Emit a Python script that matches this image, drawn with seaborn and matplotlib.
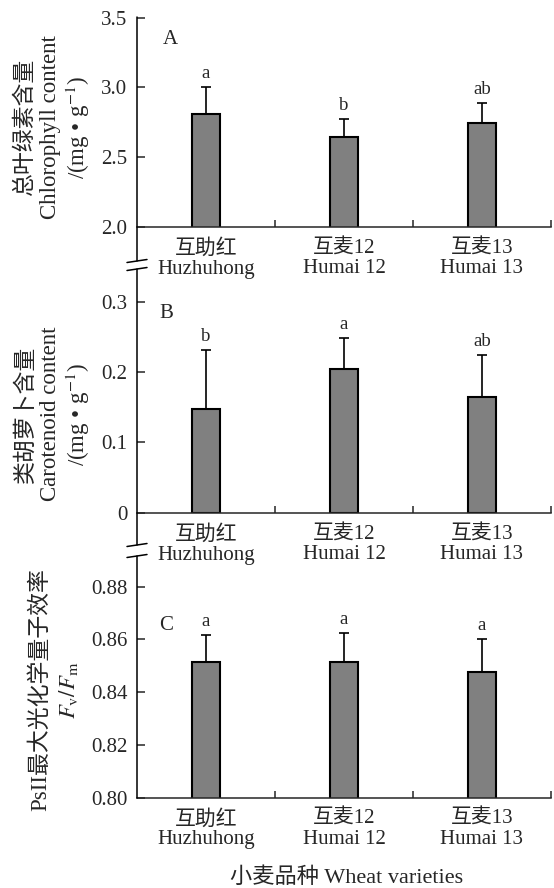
import matplotlib
matplotlib.use("Agg")
import matplotlib.pyplot as plt
from matplotlib.lines import Line2D
import seaborn as sns
import pandas as pd
import numpy as np

# ---------------- data ----------------
varieties_cn = ["互助红", "互麦12", "互麦13"]
varieties_en = ["Huzhuhong", "Humai 12", "Humai 13"]

chlorophyll = [2.81, 2.64, 2.74]
chlorophyll_err = [0.19, 0.135, 0.15]
chlorophyll_letters = ["a", "b", "ab"]

carotenoid = [0.148, 0.204, 0.165]
carotenoid_err = [0.083, 0.044, 0.059]
carotenoid_letters = ["b", "a", "ab"]

fvfm = [0.8516, 0.8516, 0.8478]
fvfm_err = [0.0102, 0.0107, 0.0124]
fvfm_letters = ["a", "a", "a"]

chl_ticks = [2.0, 2.5, 3.0, 3.5]
chl_ticklabels = ["2.0", "2.5", "3.0", "3.5"]
car_ticks = [0, 0.1, 0.2, 0.3]
car_ticklabels = ["0", "0.1", "0.2", "0.3"]
fv_ticks = [0.80, 0.82, 0.84, 0.86, 0.88]
fv_ticklabels = ["0.80", "0.82", "0.84", "0.86", "0.88"]

# ---------------- style ----------------
sns.set_style("ticks")
plt.rcParams["font.family"] = ["Liberation Serif", "Noto Sans CJK SC"]
plt.rcParams["mathtext.fontset"] = "stix"
plt.rcParams["axes.unicode_minus"] = True

W, H = 554, 888
fig = plt.figure(figsize=(W / 100, H / 100), dpi=100)

LEFT_PX, RIGHT_PX = 137, 551
BAR_COLOR = "#808080"
LW = 1.1
TICK_FS = 15


def rect(top_px, bottom_px):
    return [LEFT_PX / W, 1 - bottom_px / H, (RIGHT_PX - LEFT_PX) / W, (bottom_px - top_px) / H]


def fx(px):
    return px / W


def fy(py):
    return 1 - py / H


xtick_labels = [f"{c}\n{e}" for c, e in zip(varieties_cn, varieties_en)]


def panel(top_px, bottom_px, values, errs, letters, ylim, ticks, ticklabels, tag, tag_pos):
    ax = fig.add_axes(rect(top_px, bottom_px))
    ax.set_facecolor("none")
    df = pd.DataFrame({"variety": xtick_labels, "value": values})
    sns.barplot(data=df, x="variety", y="value", color=BAR_COLOR, saturation=1,
                edgecolor="black", linewidth=1.5, width=0.2, errorbar=None, ax=ax)
    xs = np.arange(len(values))
    ax.errorbar(xs, values, yerr=[np.zeros(len(errs)), errs], fmt="none",
                ecolor="black", elinewidth=1.2, capsize=3.3, capthick=1.2, zorder=3)
    for x, v, e, l in zip(xs, values, errs, letters):
        ax.annotate(l, xy=(x, v + e), xytext=(0, 6.5), textcoords="offset points",
                    ha="center", va="baseline", fontsize=13.5)
    ax.set_xlim(-0.5, 2.5)
    ax.set_ylim(*ylim)
    ax.set_yticks(ticks)
    ax.set_yticklabels(ticklabels)
    ax.set_xticks(xs)
    ax.set_xticklabels(xtick_labels, linespacing=1.05)
    ax.set_xticks([0.5, 1.5, 2.5], minor=True)
    ax.tick_params(axis="x", which="major", length=0, pad=9, labelsize=TICK_FS)
    ax.tick_params(axis="x", which="minor", direction="in", length=5, width=LW)
    ax.tick_params(axis="y", direction="in", length=6, width=LW, pad=7, labelsize=TICK_FS)
    ax.set_xlabel("")
    ax.set_ylabel("")
    for s in ["top", "right", "left"]:
        ax.spines[s].set_visible(False)
    ax.spines["bottom"].set_linewidth(LW)
    ax.text(tag_pos[0], tag_pos[1], tag, transform=ax.transAxes, fontsize=15,
            ha="center", va="center")
    return ax


axA = panel(17.5, 226.7, chlorophyll, chlorophyll_err, chlorophyll_letters,
            (2.0, 3.5), chl_ticks, chl_ticklabels, "A", (0.08, 0.897))
axB = panel(301.7, 512.7, carotenoid, carotenoid_err, carotenoid_letters,
            (0, 0.3), car_ticks, car_ticklabels, "B", (0.07, 0.942))
axC = panel(586.7, 797.5, fvfm, fvfm_err, fvfm_letters,
            (0.80, 0.88), fv_ticks, fv_ticklabels, "C", (0.07, 0.814))

# continuous broken left axis
segments = [(17.5, 261), (269, 545), (556, 797.5)]
for y0, y1 in segments:
    fig.add_artist(Line2D([fx(LEFT_PX), fx(LEFT_PX)], [fy(y0), fy(y1)],
                          color="black", lw=LW, transform=fig.transFigure))
for yb in [261, 269, 545, 556]:
    fig.add_artist(Line2D([fx(127), fx(147)], [fy(yb + 1.5), fy(yb - 1.5)],
                          color="black", lw=LW, transform=fig.transFigure))

# y labels
YL_FS = 16.5
ylabA = [("总叶绿素含量", 25), ("Chlorophyll content", 51), (r"/(mg • g$^{-1}$)", 78)]
for txt, x in ylabA:
    fig.text(fx(x), fy(127), txt, rotation=90, ha="center", va="center", fontsize=YL_FS)
ylabB = [("类胡萝卜含量", 26), ("Carotenoid content", 51), (r"/(mg • g$^{-1}$)", 78)]
for txt, x in ylabB:
    fig.text(fx(x), fy(414), txt, rotation=90, ha="center", va="center", fontsize=YL_FS)
ylabC = [("PsII最大光化学量子效率", 40), (r"$F_{\rm v}/F_{\rm m}$", 68)]
for txt, x in ylabC:
    fig.text(fx(x), fy(690), txt, rotation=90, ha="center", va="center", fontsize=YL_FS)

fig.text(fx(347), fy(878), "小麦品种 Wheat varieties", ha="center", va="center", fontsize=16)

fig.savefig("out.png", dpi=100, facecolor="white")
